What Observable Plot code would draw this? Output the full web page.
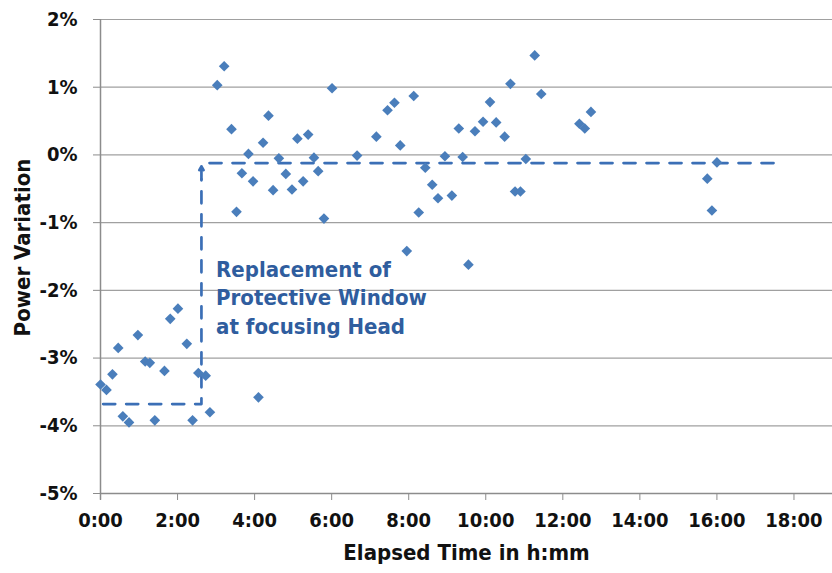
<!DOCTYPE html>
<html>
<head>
<meta charset="utf-8">
<script src="https://cdn.jsdelivr.net/npm/d3@7"></script>
<script src="https://cdn.jsdelivr.net/npm/@observablehq/plot@0.6"></script>
<style>
  html, body { margin: 0; padding: 0; background: #fff; }
  #chart svg { display: block; }
</style>
</head>
<body>
<div id="chart"></div>
<script>
// Elapsed time (hours) and power variation (%)
const hours = [0, 0.155, 0.31, 0.46, 0.58, 0.74, 0.97, 1.16, 1.28, 1.41, 1.66, 1.81, 2.01, 2.24, 2.39, 2.54, 2.73, 2.84,
  3.03, 3.21, 3.40, 3.53, 3.67, 3.84, 3.96, 4.10, 4.22, 4.36, 4.48, 4.63, 4.81, 4.97, 5.11, 5.26, 5.39, 5.54, 5.65, 5.80,
  6.01, 6.66, 7.16, 7.45, 7.63, 7.78, 7.95, 8.13, 8.26, 8.43, 8.61, 8.76, 8.94, 9.12, 9.30, 9.40, 9.55, 9.72, 9.93,
  10.11, 10.27, 10.49, 10.64, 10.76, 10.90, 11.04, 11.27, 11.44, 12.43, 12.57, 12.73, 15.75, 16.0, 15.87];
const variation = [-3.39, -3.47, -3.24, -2.85, -3.86, -3.95, -2.66, -3.05, -3.07, -3.92, -3.19, -2.42, -2.27, -2.79, -3.92, -3.22, -3.26, -3.80,
  1.03, 1.31, 0.38, -0.84, -0.27, 0.015, -0.39, -3.58, 0.18, 0.58, -0.52, -0.05, -0.28, -0.51, 0.24, -0.39, 0.30, -0.04, -0.24, -0.94,
  0.985, -0.01, 0.27, 0.66, 0.77, 0.14, -1.42, 0.87, -0.85, -0.19, -0.44, -0.64, -0.02, -0.60, 0.39, -0.03, -1.62, 0.35, 0.49,
  0.78, 0.48, 0.27, 1.05, -0.54, -0.54, -0.06, 1.47, 0.90, 0.46, 0.39, 0.635, -0.35, -0.11, -0.82];

// Annotation connector (before / after levels)
const beforeLevel = -3.68;
const afterLevel = -0.12;
const connectorX = [0.07, 2.62, 2.62];
const connectorY = [beforeLevel, beforeLevel, -0.36];
const arrowFrom = {x: 2.62, y: -0.36};
const arrowTo = {x: 2.62, y: -0.17};
const afterLineX = [2.83, 17.55];

const xTicks = [0, 2, 4, 6, 8, 10, 12, 14, 16, 18];
const yTicks = [-5, -4, -3, -2, -1, 0, 1, 2];
const gridY = [-4, -3, -2, -1, 0, 1, 2];
const noteText = ["Replacement of\nProtective Window\nat focusing Head"];
const xTitle = ["Elapsed Time in h:mm"];
const yTitle = ["Power Variation"];

const points = hours.map((h, i) => ({h, v: variation[i]}));
const connector = connectorX.map((x, i) => ({x, y: connectorY[i]}));
const afterLine = afterLineX.map(x => ({x, y: afterLevel}));

const FONT = '"DejaVu Sans Condensed", "DejaVu Sans", sans-serif';
const blue = "#4a7ebb";
const dashBlue = "#3b6fb6";
const fmtX = d => `${d}:00`;
const fmtY = d => `${d}%`;

const chart = Plot.plot({
  width: 832,
  height: 573,
  marginLeft: 100,
  marginRight: 0,
  marginTop: 19,
  marginBottom: 80,
  style: {fontFamily: FONT, fontSize: "20px", fontWeight: "bold", color: "#111", background: "#fff"},
  x: {domain: [0, 19]},
  y: {domain: [-5, 2]},
  marks: [
    Plot.ruleY(gridY, {stroke: "#a0a0a0", strokeWidth: 1.2}),
    Plot.ruleY([-5], {stroke: "#8c8c8c", strokeWidth: 1.5}),
    Plot.ruleX([0], {y1: -5.1, y2: 2, stroke: "#8c8c8c", strokeWidth: 1.5}),
    Plot.axisX({ticks: xTicks, tickFormat: fmtX, tickSize: 7, tickPadding: 12, stroke: "#8c8c8c", fontSize: 20, label: null}),
    Plot.axisY({ticks: yTicks, tickFormat: fmtY, tickSize: 7, tickPadding: 16, stroke: "#8c8c8c", fontSize: 20, label: null}),
    Plot.text(xTitle, {frameAnchor: "bottom", dy: 66, text: d => d, fontSize: 22, fontWeight: "bold", fill: "#111"}),
    Plot.text(yTitle, {frameAnchor: "left", textAnchor: "middle", dx: -78, dy: -9, rotate: -90, text: d => d,
      fontSize: 22, fontWeight: "bold", fill: "#111"}),
    Plot.line(connector, {x: "x", y: "y", stroke: dashBlue, strokeWidth: 2.7, strokeDasharray: "12,11"}),
    Plot.line(afterLine, {x: "x", y: "y", stroke: dashBlue, strokeWidth: 2.7, strokeDasharray: "12,11"}),
    Plot.arrow([{x1: arrowFrom.x, y1: arrowFrom.y, x2: arrowTo.x, y2: arrowTo.y}],
      {x1: "x1", y1: "y1", x2: "x2", y2: "y2", stroke: dashBlue, strokeWidth: 2.7, headLength: 12, headAngle: 60, bend: 0}),
    Plot.dot(points, {x: "h", y: "v", symbol: "diamond2", r: 4.8, fill: blue, stroke: "none"}),
    Plot.text(noteText, {x: 3.0, y: -1.5, text: d => d, textAnchor: "start", lineAnchor: "top",
      lineHeight: 1.3, fill: "#2f5d9e", fontSize: 22, fontWeight: "bold", fontFamily: FONT})
  ]
});
document.getElementById("chart").appendChild(chart);
</script>
</body>
</html>
